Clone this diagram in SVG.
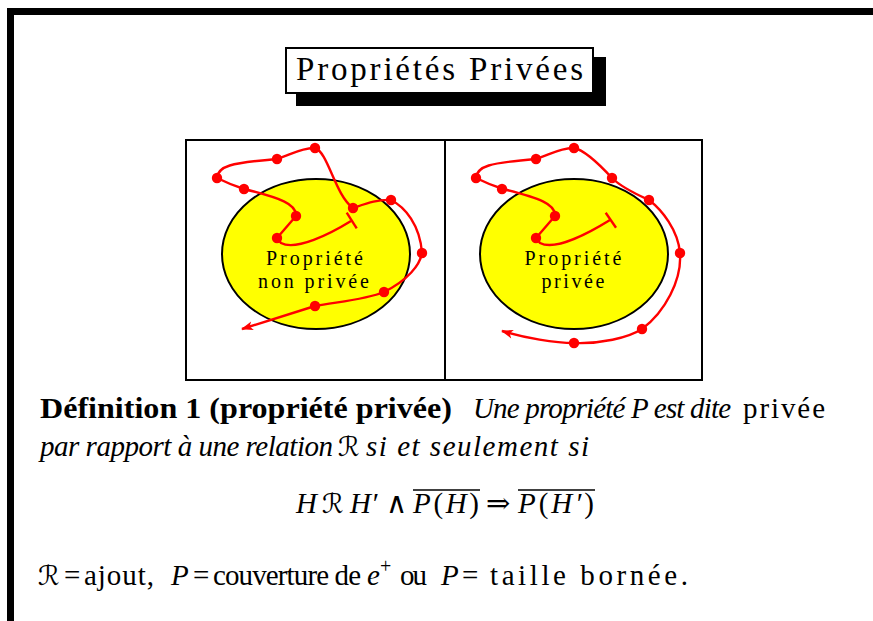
<svg xmlns="http://www.w3.org/2000/svg" width="873" height="621" viewBox="0 0 873 621">
<style>
.serif{font-family:"Liberation Serif","DejaVu Serif",serif;fill:#000}
.it{font-style:italic}
.bd{font-weight:bold}
.body{font-size:29px}
.lbl{font-size:20px;text-anchor:middle}
.curve{fill:none;stroke:#ff0000;stroke-width:2.4;stroke-linejoin:round}
.tee{stroke:#ff0000;stroke-width:2.4}
.dot{fill:#ff0000}
.ell{fill:#ffff00;stroke:#000;stroke-width:2}
.scr{font-family:"DejaVu Serif","DejaVu Sans",serif;font-style:italic;font-size:27px}
.bar{stroke:#000;stroke-width:1.6}
</style>
<defs>
<marker id="arr" markerUnits="userSpaceOnUse" markerWidth="16" markerHeight="12" refX="0" refY="0" viewBox="-14 -6 16 12" orient="auto" overflow="visible">
<path d="M1,0 L-11,-4.5 L-8,0 L-11,4.5 Z" fill="#ff0000"/>
</marker>
</defs>
<rect width="873" height="621" fill="#fff"/>
<g id="frame">
<rect x="7" y="8" width="866" height="7" fill="#000"/>
<rect x="7" y="8" width="7" height="613" fill="#000"/>
</g>
<g id="title">
<rect x="296" y="57" width="310" height="49" fill="#000"/>
<rect x="286" y="48" width="307" height="45" fill="#fff" stroke="#000" stroke-width="2"/>
<text class="serif" x="296" y="80" font-size="33" textLength="287" lengthAdjust="spacing">Propriétés Privées</text>
</g>
<g id="panels">
<rect x="186" y="140" width="516" height="240" fill="none" stroke="#000" stroke-width="2"/>
<line x1="445" y1="140" x2="445" y2="380" stroke="#000" stroke-width="2"/>
</g>
<g id="left-property">
<ellipse class="ell" cx="316" cy="254" rx="94" ry="75"/>
<text class="serif lbl" x="314.5" y="265" textLength="97" lengthAdjust="spacing">Propriété</text>
<text class="serif lbl" x="313.5" y="288" textLength="111" lengthAdjust="spacing">non privée</text>
</g>
<g id="right-property">
<ellipse class="ell" cx="574" cy="254" rx="94" ry="75"/>
<text class="serif lbl" x="573" y="265" textLength="97" lengthAdjust="spacing">Propriété</text>
<text class="serif lbl" x="573" y="288" textLength="63" lengthAdjust="spacing">privée</text>
</g>
<g id="connectors">
<path class="curve" marker-end="url(#arr)" d="M351,221 C330,234 296,251 281,243 L277,238 L296,216 C297,204 280,198 244,189 C235,186 225,182 217,178 C218,166 230,163 277,159 C290,155 303,147 315,148 C328,152 335,195 353,208 C365,204 378,199 391,200 C405,207 420,225 422,253 C420,265 408,280 384,292 C365,300 335,302 315,306 L242,329"/>
<line class="tee" x1="346.7" y1="212.7" x2="356.7" y2="228.3"/>
<path class="curve" marker-end="url(#arr)" d="M610,220 C589,233 555,251 540,243 L536,238 L555,216 C556,204 539,198 503,189 C494,186 484,182 476,178 C477,166 489,163 536,159 C549,155 562,147 574,148 C584,150 600,165 612,178 C622,188 638,195 649,200 C662,210 678,230 680,253 C682,280 665,312 642,329 C628,338 600,344 574,343 C555,343 525,338 502,331"/>
<line class="tee" x1="605.7" y1="212.7" x2="616" y2="227.7"/>
<g class="dot">
<circle cx="277" cy="238" r="5.2"/><circle cx="296" cy="216" r="5.2"/><circle cx="244" cy="189" r="5.2"/><circle cx="217" cy="178" r="5.2"/><circle cx="277" cy="159" r="5.2"/><circle cx="315" cy="148" r="5.2"/><circle cx="353" cy="208" r="5.2"/><circle cx="391" cy="200" r="5.2"/><circle cx="422" cy="253" r="5.2"/><circle cx="384" cy="292" r="5.2"/><circle cx="315" cy="306" r="5.2"/>
<circle cx="536" cy="238" r="5.2"/><circle cx="555" cy="216" r="5.2"/><circle cx="502" cy="189" r="5.2"/><circle cx="476" cy="178" r="5.2"/><circle cx="536" cy="159" r="5.2"/><circle cx="574" cy="148" r="5.2"/><circle cx="612" cy="178" r="5.2"/><circle cx="649" cy="200" r="5.2"/><circle cx="680" cy="253" r="5.2"/><circle cx="642" cy="329" r="5.2"/><circle cx="574" cy="343" r="5.2"/>
</g>
</g>
<g id="definition">
<text class="serif body bd" x="40" y="418" textLength="412" lengthAdjust="spacingAndGlyphs">Définition 1 (propriété privée)</text>
<text class="serif body it" x="473" y="418" textLength="258">Une propriété P est dite</text>
<text class="serif body" x="743" y="418" textLength="82">privée</text>
<text class="serif body it" x="40" y="456" textLength="293">par rapport à une relation</text>
<text class="scr" x="338" y="456">ℛ</text>
<text class="serif body it" x="366" y="456" textLength="223">si et seulement si</text>
</g>
<g id="equation">
<text class="serif body it" x="296" y="513">H</text>
<text class="scr" x="322" y="513">ℛ</text>
<text class="serif body it" x="350" y="513">H′</text>
<text class="serif body" x="386" y="513">∧</text>
<text class="serif body" x="413" y="513" textLength="66"><tspan class="it">P</tspan>(<tspan class="it">H</tspan>)</text>
<line class="bar" x1="413" y1="490" x2="480" y2="490"/>
<text class="serif body" x="486" y="513">⇒</text>
<text class="serif body" x="518" y="513" textLength="76"><tspan class="it">P</tspan>(<tspan class="it">H′</tspan>)</text>
<line class="bar" x1="518" y1="490" x2="595" y2="490"/>
</g>
<g id="examples">
<text class="scr" x="38" y="585">ℛ</text>
<text class="serif body" x="64" y="585">=</text>
<text class="serif body" x="84" y="585" textLength="70">ajout,</text>
<text class="serif body it" x="171" y="585">P</text>
<text class="serif body" x="193" y="585">=</text>
<text class="serif body" x="213" y="585" textLength="148">couverture de</text>
<text class="serif body it" x="367" y="585">e</text>
<text class="serif" x="380" y="573" font-size="20">+</text>
<text class="serif body" x="400" y="585" textLength="27">ou</text>
<text class="serif body it" x="441" y="585">P</text>
<text class="serif body" x="462" y="585">=</text>
<text class="serif body" x="490" y="585" textLength="198">taille bornée.</text>
</g>
</svg>
